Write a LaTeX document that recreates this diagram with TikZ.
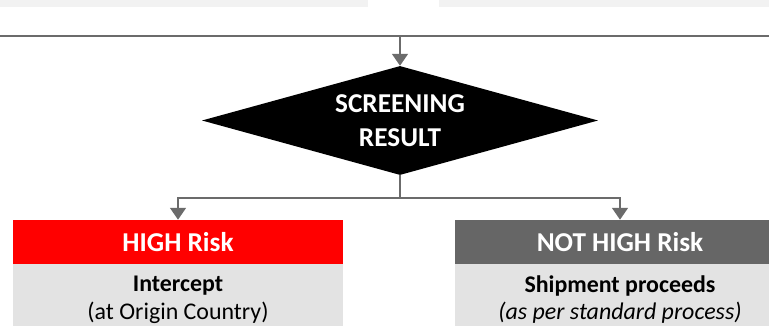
\documentclass[tikz,border=0pt]{standalone}
\usepackage{fontspec}
\setmainfont{Carlito}
\usepackage{xcolor}
\usepackage{tikz}
\usetikzlibrary{shapes.geometric, arrows.meta, positioning}
\definecolor{riskred}{HTML}{FF0000}
\definecolor{riskgrey}{HTML}{666666}
\definecolor{linegrey}{HTML}{6B6B6B}
\definecolor{bodygrey}{HTML}{E3E3E3}
\definecolor{panelgrey}{HTML}{F2F2F2}
\tikzstyle{decision} = [diamond, aspect=3.63, minimum width=10.48cm, minimum height=2.884cm, inner sep=0pt, fill=black, text=white, align=center, font=\fontsize{20.5}{25.5}\selectfont\bfseries]
\tikzstyle{riskhead} = [rectangle, minimum width=8.731cm, minimum height=1.164cm, inner sep=0pt, text=white, font=\fontsize{20.5}{24}\selectfont\bfseries]
\tikzstyle{riskbody} = [rectangle, minimum width=8.731cm, minimum height=1.852cm, inner sep=0pt, fill=bodygrey, text=black, align=center, font=\fontsize{18}{21}\selectfont]
\tikzstyle{wire} = [line width=1.5pt, color=linegrey]
\tikzstyle{arrow} = [wire, -{Triangle[width=12pt, length=9pt]}]

\begin{document}
\begin{tikzpicture}
    \useasboundingbox (0,0) rectangle (20.346,8.625);
    % cropped panels above
    \fill[panelgrey] (0,8.44) rectangle (9.737,8.625);
    \fill[panelgrey] (11.615,8.44) rectangle (20.346,8.625);

    \coordinate (busL) at (0,7.673);
    \coordinate (busR) at (20.346,7.673);
    \coordinate (busM) at (10.583,7.673);
    \node[decision] (screen) at (10.583,5.437) {SCREENING\\RESULT};
    \coordinate (split) at (10.583,3.387);

    \node[riskhead, fill=riskred] (highhead) at (4.710,2.223) {HIGH Risk};
    \node[riskbody, below=0pt of highhead] (highbody) {\textbf{Intercept}\\(at Origin Country)};
    \node[riskhead, fill=riskgrey] (nothead) at (16.404,2.223) {NOT HIGH Risk};
    \node[riskbody, below=0pt of nothead] (notbody) {\textbf{Shipment proceeds}\\\textit{(as per standard process)}};

    \draw[wire] (busL) -- (busR);
    \draw[arrow] (busM) -- (screen.north);
    \draw[wire] (screen.south) -- (split);
    \draw[arrow] (split) -| (highhead.north);
    \draw[arrow] (split) -| (nothead.north);
\end{tikzpicture}
\end{document}
